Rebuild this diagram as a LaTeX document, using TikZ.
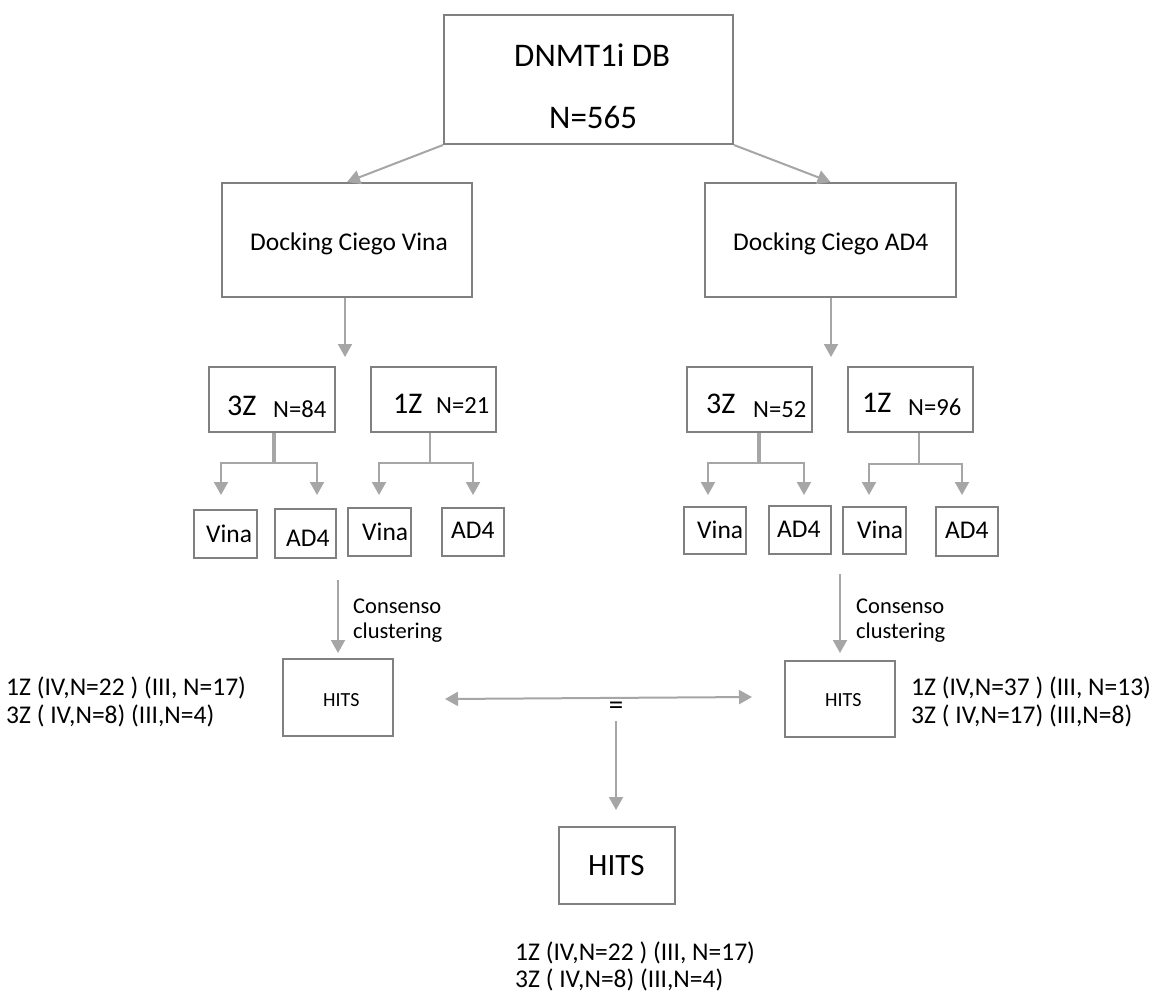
\documentclass[tikz,border=0pt]{standalone}
\usepackage{fontspec}
\setmainfont{Carlito}
\usetikzlibrary{arrows.meta}
\newcommand\myfs[1]{\fontsize{#1pt}{#1pt}\selectfont}
\definecolor{boxgray}{HTML}{808080}
\definecolor{arrgray}{HTML}{A6A6A6}
\begin{document}
\begin{tikzpicture}[x=1pt,y=-1pt,
  box/.style={draw=boxgray, line width=2pt, inner sep=0pt, fill=white},
  txt/.style={inner sep=0pt, anchor=base west, text=black},
  arr/.style={draw=arrgray, line width=2pt, -{Triangle[length=13pt,width=14pt]}},
  link/.style={draw=arrgray, line width=2pt},
  stem/.style={draw=arrgray, line width=4.5pt}]
\useasboundingbox[fill=white] (0,0) rectangle (1165,994);

% top
\node[box, minimum width=289, minimum height=129] (top) at (588.5,79.5) {};
\node[txt, font=\myfs{33}] (topa) at (514,66) {DNMT1i DB};
\node[txt, font=\myfs{33}] (topb) at (549,128) {N=565};

% docking boxes
\node[box, minimum width=250, minimum height=114] (dv) at (347,240) {};
\node[txt, font=\myfs{25.5}] (dvt) at (250,250) {Docking Ciego Vina};
\node[box, minimum width=251, minimum height=114] (da) at (830.5,240) {};
\node[txt, font=\myfs{25.5}] (dat) at (733,250) {Docking Ciego AD4};

\draw[arr] (top.south west) -- (dv.north);
\draw[arr] (top.south east) -- (da.north);

\coordinate (dvtip) at (345,357);
\coordinate (datip) at (831,357);
\draw[arr] (dv.south -| dvtip) -- (dvtip);
\draw[arr] (da.south -| datip) -- (datip);

% second row
\node[box, minimum width=126, minimum height=65] (l3z) at (272,399.5) {};
\node[txt, font=\myfs{30}] (l3za) at (227,415) {3Z};
\node[txt, font=\myfs{24.6}] (l3zb) at (273,417) {N=84};
\node[box, minimum width=125, minimum height=65] (l1z) at (433.5,399.5) {};
\node[txt, font=\myfs{30}] (l1za) at (393,413) {1Z};
\node[txt, font=\myfs{24.6}] (l1zb) at (436,413) {N=21};
\node[box, minimum width=125, minimum height=65] (r3z) at (749.5,399.5) {};
\node[txt, font=\myfs{30}] (r3za) at (706,413) {3Z};
\node[txt, font=\myfs{24.6}] (r3zb) at (753,417) {N=52};
\node[box, minimum width=125, minimum height=65] (r1z) at (910.5,399.5) {};
\node[txt, font=\myfs{30}] (r1za) at (862,412) {1Z};
\node[txt, font=\myfs{24.6}] (r1zb) at (908,415) {N=96};

% branches
\coordinate (l3j) at (274,463); \coordinate (l3a) at (221,495); \coordinate (l3b) at (317,495);
\coordinate (l1j) at (430,463); \coordinate (l1a) at (379,495); \coordinate (l1b) at (473,495);
\coordinate (r3j) at (759,463); \coordinate (r3a) at (708,495); \coordinate (r3b) at (804,495);
\coordinate (r1j) at (919,464); \coordinate (r1a) at (869,495); \coordinate (r1b) at (962,495);

\draw[stem] (l3z.south -| l3j) -- (l3j);
\draw[arr] (l3j) -| (l3a);
\draw[arr] (l3j) -| (l3b);
\draw[link] (l1z.south -| l1j) -- (l1j);
\draw[arr] (l1j) -| (l1a);
\draw[arr] (l1j) -| (l1b);
\draw[stem] (r3z.south -| r3j) -- (r3j);
\draw[arr] (r3j) -| (r3a);
\draw[arr] (r3j) -| (r3b);
\draw[link] (r1z.south -| r1j) -- (r1j);
\draw[arr] (r1j) -| (r1a);
\draw[arr] (r1j) -| (r1b);

% leaves
\node[box, minimum width=63, minimum height=48] (lv1) at (225.5,534) {};
\node[txt, font=\myfs{25.5}] (lv1t) at (206,542) {Vina};
\node[box, minimum width=61, minimum height=49] (la1) at (305.5,533.5) {};
\node[txt, font=\myfs{25.5}] (la1t) at (286,546) {AD4};
\node[box, minimum width=63, minimum height=48] (lv2) at (379.5,532) {};
\node[txt, font=\myfs{25.5}] (lv2t) at (362,540) {Vina};
\node[box, minimum width=62, minimum height=48] (la2) at (473,532) {};
\node[txt, font=\myfs{25.5}] (la2t) at (451,538) {AD4};
\node[box, minimum width=62, minimum height=47] (rv1) at (715,530.5) {};
\node[txt, font=\myfs{25.5}] (rv1t) at (697,538) {Vina};
\node[box, minimum width=62, minimum height=48] (ra1) at (800,530) {};
\node[txt, font=\myfs{25.5}] (ra1t) at (777,537) {AD4};
\node[box, minimum width=63, minimum height=47] (rv2) at (874.5,530.5) {};
\node[txt, font=\myfs{25.5}] (rv2t) at (857,538) {Vina};
\node[box, minimum width=62, minimum height=49] (ra2) at (967,531.5) {};
\node[txt, font=\myfs{25.5}] (ra2t) at (945,538) {AD4};

% HITS boxes
\node[box, minimum width=110, minimum height=77] (lh) at (338,697.5) {};
\node[txt, font=\myfs{20}] (lht) at (323,706) {HITS};
\node[box, minimum width=110, minimum height=76] (rh) at (840,698.5) {};
\node[txt, font=\myfs{20}] (rht) at (825,706) {HITS};

% consenso arrows
\coordinate (lcs) at (338,580); \coordinate (lct) at (338,653);
\coordinate (rcs) at (840,574); \coordinate (rct) at (840,653);
\draw[arr] (lcs) -- (lct);
\draw[arr] (rcs) -- (rct);
\node[txt, font=\myfs{22.5}] (lc1) at (353,613) {Consenso};
\node[txt, font=\myfs{22.5}] (lc2) at (353,638) {clustering};
\node[txt, font=\myfs{22.5}] (rc1) at (856,613) {Consenso};
\node[txt, font=\myfs{22.5}] (rc2) at (856,638) {clustering};

% side labels
\node[txt, font=\myfs{25.5}] (ll1) at (6,695) {1Z (IV,N=22 ) (III, N=17)};
\node[txt, font=\myfs{25.5}] (ll2) at (6,723) {3Z ( IV,N=8) (III,N=4)};
\node[txt, font=\myfs{25.5}] (rl1) at (911,695) {1Z (IV,N=37 ) (III, N=13)};
\node[txt, font=\myfs{25.5}] (rl2) at (911,723) {3Z ( IV,N=17) (III,N=8)};

% double arrow and equality
\coordinate (dl) at (445,699); \coordinate (dr) at (752,697);
\draw[draw=arrgray, line width=2pt, {Triangle[length=13pt,width=14pt]}-{Triangle[length=13pt,width=14pt]}] (dl) -- (dr);
\node[inner sep=0pt, font=\myfs{29}] (eq) at (616,708) {=};
\coordinate (vs) at (616,721); \coordinate (vt) at (616,810);
\draw[arr] (vs) -- (vt);

% bottom
\node[box, minimum width=116, minimum height=77] (bh) at (617,865.5) {};
\node[txt, font=\myfs{31}] (bht) at (588,875) {HITS};
\node[txt, font=\myfs{25.5}] (bl1) at (515,960) {1Z (IV,N=22 ) (III, N=17)};
\node[txt, font=\myfs{25.5}] (bl2) at (515,987) {3Z ( IV,N=8) (III,N=4)};
\end{tikzpicture}
\end{document}
